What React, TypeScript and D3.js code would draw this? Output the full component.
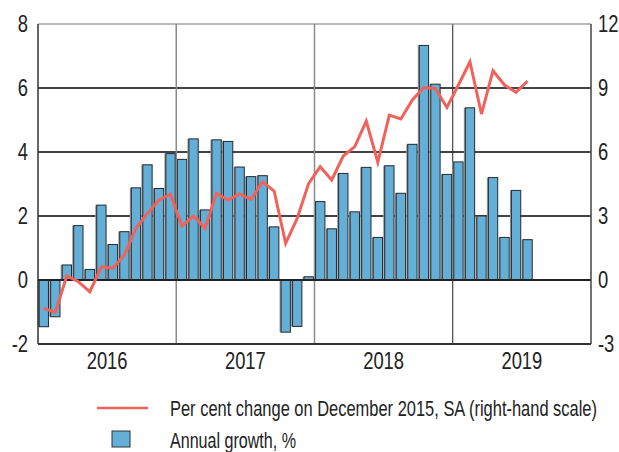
import React from "react";
import * as d3 from "d3";

const years = ["2016", "2017", "2018", "2019"];
const leftTicks = [-2, 0, 2, 4, 6, 8];
const rightTicks = [-3, 0, 3, 6, 9, 12];

// Annual growth, % (left scale), monthly Jan 2016 – Jul 2019
const annualGrowth = [
  -1.46, -1.15, 0.47, 1.7, 0.33, 2.34, 1.11, 1.51, 2.88, 3.6, 2.86, 3.95,
  3.77, 4.41, 2.19, 4.38, 4.33, 3.53, 3.23, 3.26, 1.66, -1.63, -1.45, 0.1,
  2.45, 1.6, 3.33, 2.13, 3.52, 1.33, 3.57, 2.71, 4.24, 7.33, 6.12, 3.3,
  3.69, 5.38, 2.0, 3.2, 1.33, 2.8, 1.26,
];

// Per cent change on December 2015, SA (right scale)
const changeOnDec2015 = [
  -1.33, -1.52, 0.19, -0.08, -0.55, 0.62, 0.55, 1.17, 2.42, 3.12, 3.75, 4.02,
  2.53, 3.0, 2.42, 4.06, 3.75, 4.03, 3.78, 4.61, 4.17, 1.72, 2.89, 4.53,
  5.31, 4.69, 5.81, 6.25, 7.45, 5.52, 7.73, 7.55, 8.44, 9.02, 8.98, 8.09,
  9.14, 10.23, 7.78, 9.81, 9.14, 8.8, 9.33,
];

const legendLabels = [
  "Per cent change on December 2015, SA (right-hand scale)",
  "Annual growth, %",
];

const W = 619;
const H = 452;
const X0 = 38;
const X1 = 591;
const Y0 = 24;
const Y1 = 344;
const FONT = "'Liberation Sans', Arial, sans-serif";
const BAR = "#63afd7";
const LINE = "#f0625a";
const SX = 0.8;

function NText(props: {
  x: number;
  y: number;
  anchor?: "start" | "middle" | "end";
  size: number;
  len?: number;
  children: React.ReactNode;
}) {
  const { x, y, anchor = "start", size, len, children } = props;
  return (
    <g transform={`translate(${x},${y}) scale(${SX},1)`}>
      <text
        x={0}
        y={0}
        textAnchor={anchor}
        dominantBaseline="central"
        fontSize={size}
        fill="#222"
        {...(len ? { textLength: len / SX, lengthAdjust: "spacingAndGlyphs" } : {})}
      >
        {children}
      </text>
    </g>
  );
}

export default function App() {
  const months = d3.range(years.length * 12);
  const x = d3.scaleBand<number>().domain(months).range([X0, X1]).paddingInner(0.19).paddingOuter(0.1);
  const xYear = d3.scaleBand<string>().domain(years).range([X0, X1]);
  const yL = d3.scaleLinear().domain([-2, 8]).range([Y1, Y0]);
  const yR = d3.scaleLinear().domain([-3, 12]).range([Y1, Y0]);
  const step = x.step();
  const cx = (i: number) => X0 + step * i + step / 2;

  const line = d3
    .line<number>()
    .x((_, i) => cx(i))
    .y((d) => yR(d));

  return (
    <svg
      width={W}
      height={H}
      style={{ position: "absolute", left: 0, top: 0, background: "#fff" }}
      fontFamily={FONT}
    >
      {/* gridlines */}
      {leftTicks
        .filter((t) => t > 0 && t < 8)
        .map((t) => (
          <line key={"g" + t} x1={X0} x2={X1} y1={yL(t)} y2={yL(t)} stroke="#444" strokeWidth={1.8} />
        ))}
      {years.slice(1).map((yr, i) => (
        <line
          key={"v" + yr}
          x1={xYear(yr)!}
          x2={xYear(yr)!}
          y1={Y0}
          y2={Y1}
          stroke={i < 2 ? "#8a8a8a" : "#222"}
          strokeWidth={i < 2 ? 1.5 : 1}
        />
      ))}
      {/* bars */}
      {annualGrowth.map((v, i) => {
        const bx = x(i)!;
        const y = Math.min(yL(v), yL(0));
        const h = Math.abs(yL(v) - yL(0));
        return (
          <g key={"b" + i}>
            <rect x={bx - 1.5} y={y} width={x.bandwidth()} height={h} fill="#9a9a9a" />
            <rect x={bx} y={y} width={x.bandwidth()} height={h} fill={BAR} stroke="#2a2a2a" strokeWidth={1} />
          </g>
        );
      })}
      {/* zero line */}
      <line x1={X0} x2={X1} y1={yL(0)} y2={yL(0)} stroke="#222" strokeWidth={2} />
      {/* frame */}
      <line x1={X0} x2={X1} y1={Y0} y2={Y0} stroke="#777" strokeWidth={1.2} />
      <line x1={X0} x2={X1} y1={Y1} y2={Y1} stroke="#333" strokeWidth={1.8} />
      <line x1={X0} x2={X0} y1={Y0} y2={Y1} stroke="#333" strokeWidth={1.5} />
      <line x1={X1} x2={X1} y1={Y0} y2={Y1} stroke="#444" strokeWidth={1.5} />
      {/* line series */}
      <path d={line(changeOnDec2015) || ""} fill="none" stroke={LINE} strokeWidth={3} strokeLinejoin="miter" />
      {/* left ticks */}
      {leftTicks.map((t) => (
        <NText key={"l" + t} x={28} y={yL(t)} anchor="end" size={23}>
          {t}
        </NText>
      ))}
      {rightTicks.map((t) => (
        <NText key={"r" + t} x={598} y={yR(t)} anchor="start" size={23}>
          {t}
        </NText>
      ))}
      {years.map((yr) => (
        <NText key={"y" + yr} x={xYear(yr)! + xYear.bandwidth() / 2} y={361} anchor="middle" size={23}>
          {yr}
        </NText>
      ))}
      {/* legend */}
      <line x1={97} x2={148} y1={408} y2={408} stroke={LINE} strokeWidth={2.5} />
      <NText x={170} y={408} size={22} len={427}>
        {legendLabels[0]}
      </NText>
      <rect x={112} y={431} width={18} height={16} fill={BAR} stroke="#333" strokeWidth={1} />
      <NText x={170} y={440} size={22} len={126}>
        {legendLabels[1]}
      </NText>
    </svg>
  );
}
